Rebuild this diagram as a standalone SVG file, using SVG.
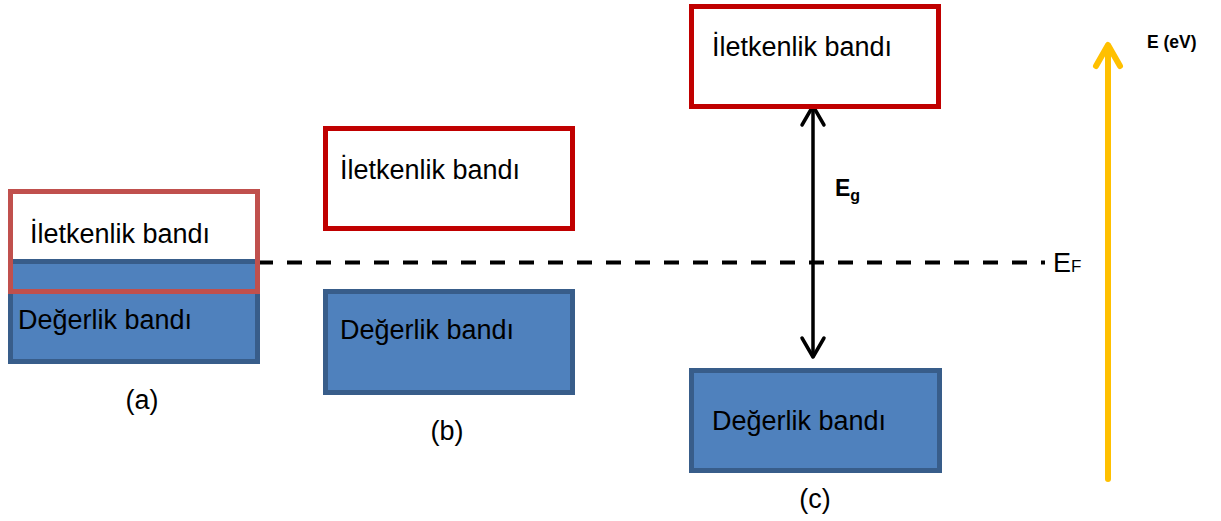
<svg xmlns="http://www.w3.org/2000/svg" width="1221" height="521" viewBox="0 0 1221 521">
<style>
text{font-family:"Liberation Sans",Arial,sans-serif;fill:#000}
.lbl{font-size:27px}
.val{fill:#4F81BD;stroke:#385D8A;stroke-width:5}
.cond{fill:#FFFFFF;stroke:#C00000;stroke-width:5}
.conda{fill:none;stroke:#C0504D;stroke-width:5}
</style>
<rect width="1221" height="521" fill="#FFFFFF"/>
<g id="connectors">
<line x1="258" y1="262.5" x2="1045" y2="262.5" stroke="#000" stroke-width="4" stroke-dasharray="15,14"/>
<g fill="none" stroke="#000" stroke-width="3.5" stroke-linecap="round" stroke-linejoin="round">
<line x1="813" y1="107" x2="813" y2="356"/>
<polyline points="802,125 813,106 824,125"/>
<polyline points="802,338 813,357 824,338"/>
</g>
<g fill="none" stroke="#FFC000" stroke-width="6" stroke-linecap="round" stroke-linejoin="round">
<line x1="1108" y1="46" x2="1108" y2="479"/>
<polyline points="1096,66 1108,45 1120,66"/>
</g>
</g>
<g id="band-a">
<rect x="10.5" y="191.5" width="247" height="100" fill="#FFFFFF"/>
<rect class="val" x="10.5" y="261.5" width="247" height="100"/>
<rect class="conda" x="10.5" y="191.5" width="247" height="100"/>
<text class="lbl" x="30" y="243">İletkenlik bandı</text>
<text class="lbl" x="18" y="329">Değerlik bandı</text>
<text class="lbl" x="142" y="409" text-anchor="middle">(a)</text>
</g>
<g id="band-b">
<rect class="cond" x="325.5" y="128.5" width="247" height="100"/>
<text class="lbl" x="340" y="179">İletkenlik bandı</text>
<rect class="val" x="325.5" y="291.5" width="247" height="101"/>
<text class="lbl" x="340" y="339">Değerlik bandı</text>
<text class="lbl" x="447" y="440" text-anchor="middle">(b)</text>
</g>
<g id="band-c">
<rect class="cond" x="691.5" y="6.5" width="247" height="100"/>
<text class="lbl" x="712" y="56">İletkenlik bandı</text>
<rect class="val" x="691.5" y="370.5" width="248" height="100"/>
<text class="lbl" x="712" y="430">Değerlik bandı</text>
<text class="lbl" x="815" y="508" text-anchor="middle">(c)</text>
</g>
<g id="eg-label">
<text x="835" y="196" font-size="23" font-weight="bold">E<tspan font-size="16" dy="5">g</tspan></text>
</g>
<g id="ef-label">
<text x="1053" y="272" font-size="27">E<tspan font-size="17">F</tspan></text>
</g>
<g id="axis-label">
<text x="1147" y="48" font-size="17.5" font-weight="bold">E (eV)</text>
</g>
</svg>
